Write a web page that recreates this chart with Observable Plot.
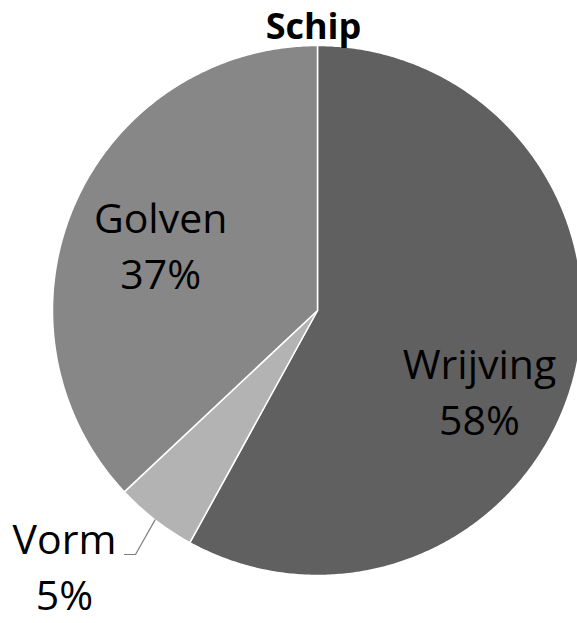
<!DOCTYPE html>
<html><head><meta charset="utf-8">
<script src="https://cdn.jsdelivr.net/npm/d3@7"></script>
<script src="https://cdn.jsdelivr.net/npm/@observablehq/plot@0.6"></script>
<style>
  html,body{margin:0;padding:0;background:#fff;overflow:hidden}
  #chart svg{display:block;overflow:hidden}
</style>
</head><body><div id="chart"></div>
<script>
// ---- data ----
const title = "Schip";
const categories = ["Wrijving", "Vorm", "Golven"];
const values = [58, 5, 37];
const percentLabels = ["58%", "5%", "37%"];

// ---- style ----
const colors = ["#606060", "#b3b3b3", "#878787"];
// label placement per slice: polar [angle in degrees clockwise from top, radius as fraction]
const labelPlacement = [[117.0, 0.686], [224.5, 1.362], [291.9, 0.638]];
const FONT = "'Open Sans', 'DejaVu Sans', sans-serif";

const W = 577, H = 623, CX = 317, CY = 310, R = 265;

const arcs = d3.pie().sort(null).startAngle(0).endAngle(2 * Math.PI)(values);

// slice polygons in data units (unit circle)
const slicePts = [];
arcs.forEach((a, i) => {
  const cat = categories[i];
  slicePts.push({cat, x: 0, y: 0});
  const n = Math.max(2, Math.ceil((a.endAngle - a.startAngle) / (Math.PI / 360)));
  for (let k = 0; k <= n; k++) {
    const t = a.startAngle + (a.endAngle - a.startAngle) * k / n;
    slicePts.push({cat, x: Math.sin(t), y: Math.cos(t)});
  }
  slicePts.push({cat, x: 0, y: 0});
});

const labels = categories.map((c, i) => {
  const [deg, r] = labelPlacement[i];
  const t = deg * Math.PI / 180;
  return {cat: c, text: c + "\n" + percentLabels[i], x: r * Math.sin(t), y: r * Math.cos(t)};
});

// leader line for the small slice (Vorm)
const vi = 1;
const vm = (arcs[vi].startAngle + arcs[vi].endAngle) / 2;
const lineY = (CY - 554) / R;
const leader = [
  {x: Math.sin(vm), y: Math.cos(vm)},
  {x: (135 - CX) / R, y: lineY},
  {x: (124 - CX) / R, y: lineY}
];

const chart = Plot.plot({
  width: W, height: H, margin: 0,
  style: {background: "#fff", fontFamily: FONT, overflow: "hidden"},
  x: {domain: [-1, 1], range: [CX - R, CX + R], axis: null},
  y: {domain: [-1, 1], range: [CY + R, CY - R], axis: null},
  color: {domain: categories, range: colors},
  marks: [
    Plot.line(slicePts, {x: "x", y: "y", z: "cat", fill: "cat", stroke: "white", strokeWidth: 1.5, strokeLinejoin: "round", curve: "linear"}),
    Plot.line(leader, {x: "x", y: "y", stroke: "#7f7f7f", strokeWidth: 1.2}),
    Plot.text(labels, {x: "x", y: "y", dy: -4, text: "text", fontSize: 41, lineHeight: 1.366, lineAnchor: "middle", textAnchor: "middle", fill: "black", fontFamily: FONT}),
    Plot.text([title], {x: 0, y: (CY - 38) / R, dx: -4, text: d => d, fontSize: 36, fontWeight: "bold", lineAnchor: "bottom", textAnchor: "middle", fill: "black", fontFamily: FONT})
  ]
});
document.getElementById("chart").appendChild(chart);
</script>
</body></html>
